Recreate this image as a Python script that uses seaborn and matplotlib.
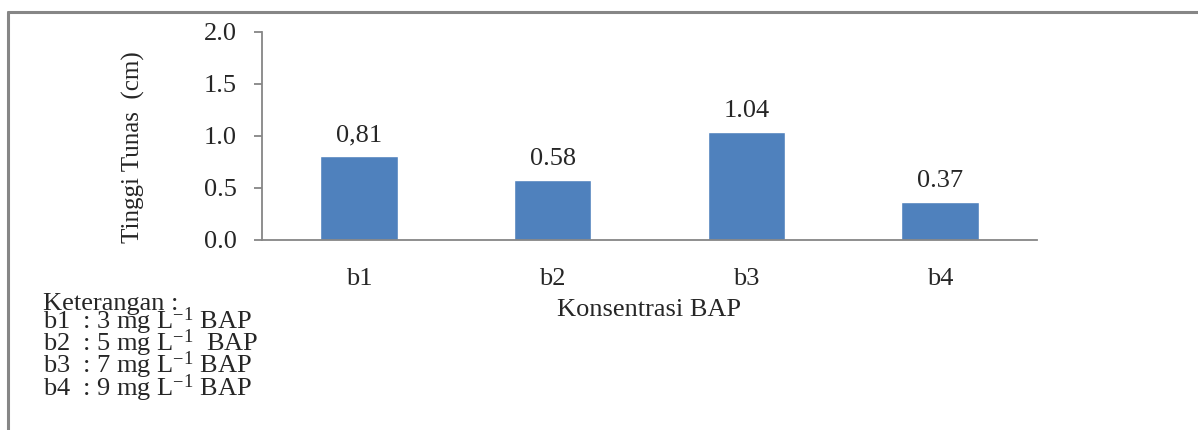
import pandas as pd
import matplotlib.pyplot as plt
import seaborn as sns
from matplotlib.lines import Line2D

# data
perlakuan = ['b1', 'b2', 'b3', 'b4']
tinggi = [0.81, 0.58, 1.04, 0.37]
label_nilai = ['0,81', '0.58', '1.04', '0.37']
keterangan = ['Keterangan :',
              'b1  : 3 mg L$^{-1}$ BAP',
              'b2  : 5 mg L$^{-1}$  BAP',
              'b3  : 7 mg L$^{-1}$ BAP',
              'b4  : 9 mg L$^{-1}$ BAP']

df = pd.DataFrame({'perlakuan': perlakuan, 'tinggi': tinggi})

sns.set_style('white')
plt.rcParams['font.family'] = ['Liberation Serif', 'DejaVu Serif']
plt.rcParams['mathtext.fontset'] = 'custom'
plt.rcParams['mathtext.rm'] = 'Liberation Serif'
plt.rcParams['mathtext.it'] = 'Liberation Serif'
plt.rcParams['mathtext.default'] = 'rm'

fig = plt.figure(figsize=(11.98, 4.30), dpi=100)
ax = fig.add_axes([262/1198, 1-240/430, (1037-262)/1198, 208/430])

sns.barplot(data=df, x='perlakuan', y='tinggi', color='#4F81BD',
            width=0.40, saturation=1, ax=ax)

ax.bar_label(ax.containers[0], labels=label_nilai, padding=7, fontsize=19)

ax.set_ylim(0, 2.0)
ax.set_xlim(-0.5, 3.5)
ax.set_yticks([0, 0.5, 1.0, 1.5, 2.0])
ax.set_yticklabels(['0.0', '0.5', '1.0', '1.5', '2.0'], fontsize=19)
ax.set_xticks(range(4))
ax.set_xticklabels(perlakuan, fontsize=19)
ax.set_xticks([-0.5, 0.5, 1.5, 2.5, 3.5], minor=True)
ax.tick_params(axis='x', which='major', length=0, pad=20)
ax.tick_params(axis='x', which='minor', length=5, width=1.3, color='#868686', direction='out')
ax.tick_params(axis='y', length=6, width=1.3, color='#868686', direction='out', pad=12, left=True)
ax.set_xlabel('')
ax.set_ylabel('')

for s in ['top', 'right']:
    ax.spines[s].set_visible(False)
for s in ['left', 'bottom']:
    ax.spines[s].set_color('#868686')
    ax.spines[s].set_linewidth(1.3)

fig.text(649/1198, 1-310/430, 'Konsentrasi BAP', ha='center', va='center', fontsize=19)
fig.text(133/1198, 1-147/430, 'Tinggi Tunas  (cm)', rotation=90, ha='center', va='center', fontsize=18)

# keterangan sebagai satu blok teks
fig.text(43/1198, 1-293/430, '\n'.join(keterangan), ha='left', va='top',
         fontsize=19, linespacing=0.6)

# frame border
fig.add_artist(Line2D([8/1198, 1], [1-12/430, 1-12/430], color='#868686', lw=2.2, transform=fig.transFigure))
fig.add_artist(Line2D([8/1198, 8/1198], [0, 1-12/430], color='#868686', lw=2.2, transform=fig.transFigure))

plt.savefig('out.png')
